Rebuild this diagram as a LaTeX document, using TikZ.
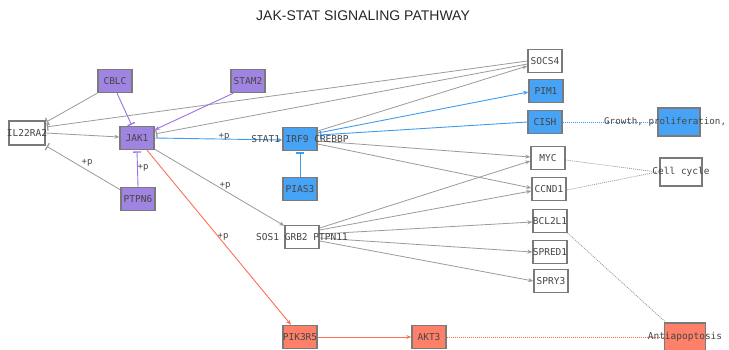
\documentclass[tikz,border=0pt]{standalone}
\usepackage{fontspec}
\setmainfont{Liberation Sans}
\newfontfamily\genefont{DejaVu Sans Mono}
\usetikzlibrary{arrows.meta,backgrounds,calc}
\definecolor{boxline}{HTML}{7A7A7A}
\definecolor{edgegray}{HTML}{9A9A9A}
\definecolor{txtgray}{HTML}{454545}
\definecolor{purp}{HTML}{A084E2}
\definecolor{purpline}{HTML}{9A72E8}
\definecolor{bluefill}{HTML}{47A3F5}
\definecolor{blueline}{HTML}{3C9CF2}
\definecolor{salfill}{HTML}{FF8068}
\definecolor{salline}{HTML}{FF6E55}
\begin{document}
\begin{tikzpicture}[x=1pt,y=-1pt,
  gene/.style={draw=boxline, line width=1.4pt, minimum width=34pt, minimum height=23pt, inner sep=0pt, fill=white},
  wide/.style={minimum width=42pt, minimum height=28pt},
  genetxt/.style={font=\genefont\fontsize{9.5}{10}\selectfont, text=txtgray, inner sep=0pt},
  gl/.style={label={[genetxt]center:#1}},
  ptxt/.style={font=\genefont\fontsize{9}{10}\selectfont, text=txtgray, inner sep=0pt},
  gedge/.style={draw=edgegray, line width=0.8pt},
  pedge/.style={draw=purpline, line width=0.9pt},
  bedge/.style={draw=blueline, line width=0.9pt},
  sedge/.style={draw=salline, line width=0.9pt},
  arr/.style={-{Stealth[length=5pt,width=4pt]}},
  inh/.style={-{Bar[width=8pt,line width=1.3pt]}, shorten >=1.2pt},
  dotline/.style={line width=0.8pt, dash pattern=on 1pt off 1pt}
]
\useasboundingbox (0,0) rectangle (729,349);

% title
\node[font=\fontsize{14}{16}\selectfont, text=black!85] (title) at (363,16) {JAK-STAT SIGNALING PATHWAY};

% receptor and kinase module
\node[gene, minimum width=36pt, minimum height=24pt, gl=IL22RA2] (il) at (27,133) {};
\node[gene, fill=purp, gl=CBLC] (cblc) at (115,81) {};
\node[gene, fill=purp, gl=STAM2] (stam2) at (248,81) {};
\node[gene, fill=purp, gl=JAK1] (jak1) at (137,138) {};
\node[gene, fill=purp, gl=PTPN6] (ptpn6) at (138,199) {};

% STAT complex and downstream
\node[gene, fill=bluefill, gl={STAT1 IRF9 CREBBP}] (irf9) at (300,139) {};
\node[gene, fill=bluefill, gl=PIAS3] (pias3) at (300,189) {};
\node[gene, gl={SOS1 GRB2 PTPN11}] (grb2) at (302,237) {};
\node[gene, fill=salfill, gl=PIK3R5] (pik) at (300,337) {};
\node[gene, fill=salfill, gl=AKT3] (akt) at (429,337) {};

% target genes
\node[gene, gl=SOCS4] (socs4) at (545,61) {};
\node[gene, fill=bluefill, gl=PIM1] (pim1) at (546,91) {};
\node[gene, fill=bluefill, gl=CISH] (cish) at (545,122) {};
\node[gene, gl=MYC] (myc) at (548,158) {};
\node[gene, gl=CCND1] (ccnd1) at (549,189) {};
\node[gene, gl=BCL2L1] (bcl) at (550,221) {};
\node[gene, gl=SPRED1] (spred) at (550,252) {};
\node[gene, gl=SPRY3] (spry) at (551,281) {};

% cellular outcomes
\node[gene, wide, fill=bluefill] (growth) at (679,122) {};
\node[genetxt, font=\genefont\fontsize{9.2}{10}\selectfont, anchor=west] (growthtxt) at (604,122) {Growth, proliferation,};
\node[gene, wide, gl={Cell cycle}] (cc) at (681,172) {};
\node[gene, wide, minimum width=41pt, fill=salfill, gl=Antiapoptosis] (anti) at (685,337) {};

% phosphorylation labels
\node[ptxt] (p1) at (87,163) {+p};
\node[ptxt] (p2) at (143,168) {+p};
\node[ptxt] (p3) at (224,137) {+p};
\node[ptxt] (p4) at (225,186) {+p};
\node[ptxt] (p5) at (223,237) {+p};

\begin{scope}[on background layer]
  % receptor level
  \draw[gedge, inh] (cblc.south west) -- ($(il.north east)+(0,2)$);
  \draw[gedge, inh] (socs4.west) -- ($(il.east)+(0,-6)$);
  \draw[gedge, arr] (il.east) -- ($(jak1.west)+(0,-1)$);
  \draw[gedge, inh] ($(ptpn6.north west)+(0,3)$) -- (il.south east);
  \draw[gedge, inh] ($(socs4.west)+(0,3)$) -- ($(jak1.east)+(0,-4)$);
  \draw[pedge, inh] ($(cblc.south)+(2,0)$) -- ($(jak1.north)+(-5,0)$);
  \draw[pedge, arr] ($(stam2.south west)+(3,0)$) -- ($(jak1.north east)+(0,4)$);
  \draw[pedge, inh] (ptpn6.north) -- (jak1.south);

  % JAK1 outputs
  \draw[bedge, arr] (jak1.east) -- ($(irf9.west)+(0,1)$);
  \draw[gedge, arr] ($(jak1.south east)+(0,-1)$) -- ($(grb2.north west)+(0,1)$);
  \draw[sedge, arr] ($(jak1.south)+(10,0)$) -- ($(pik.north)+(-9,0)$);
  \draw[bedge, inh] (pias3.north) -- (irf9.south);

  % STAT complex outputs
  \draw[gedge, arr] ($(irf9.east)+(0,-8)$) -- ($(socs4.west)+(0,5)$);
  \draw[bedge, arr] ($(irf9.east)+(0,-6)$) -- ($(pim1.west)+(0,1)$);
  \draw[bedge, inh] (cish.west) -- ($(irf9.east)+(1,-4)$);
  \draw[gedge, arr] ($(irf9.east)+(0,2)$) -- ($(myc.west)+(0,-1)$);
  \draw[gedge, arr] ($(irf9.east)+(0,5)$) -- ($(ccnd1.west)+(0,-1)$);

  % GRB2 outputs
  \draw[gedge, arr] ($(grb2.east)+(0,-9)$) -- ($(myc.west)+(0,3)$);
  \draw[gedge, arr] ($(grb2.east)+(0,-7)$) -- ($(ccnd1.west)+(0,2)$);
  \draw[gedge, arr] ($(grb2.east)+(0,-3)$) -- ($(bcl.west)+(0,1)$);
  \draw[gedge, arr] ($(grb2.east)+(0,1)$) -- (spred.west);
  \draw[gedge, arr] ($(grb2.east)+(0,4)$) -- (spry.west);

  % PI3K branch
  \draw[sedge, arr] (pik.east) -- (akt.west);

  % links to outcomes
  \draw[salline, dotline] (akt.east) -- (anti.west);
  \draw[blueline, dotline] (cish.east) -- (growth.west);
  \draw[edgegray, dotline] ($(myc.east)+(0,2)$) -- ($(cc.west)+(-2,0)$);
  \draw[edgegray, dotline] ($(ccnd1.east)+(0,1)$) -- ($(cc.west)+(-2,0)$);
  \draw[edgegray, dotline] (bcl.south east) -- ($(anti.north west)+(2,0)$);
\end{scope}
\end{tikzpicture}
\end{document}
